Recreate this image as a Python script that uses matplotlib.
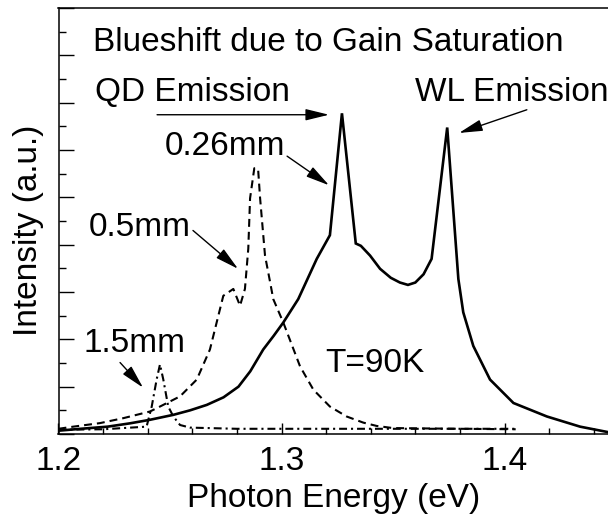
import matplotlib
matplotlib.use("Agg")
import matplotlib.pyplot as plt
from matplotlib.ticker import MultipleLocator

plt.rcParams['font.family'] = ['Liberation Sans', 'DejaVu Sans']

# ---- data ----
x_026 = [1.200, 1.210, 1.222, 1.232, 1.241, 1.2515, 1.259, 1.2665, 1.274, 1.2807,
         1.286, 1.2918, 1.2965, 1.3008, 1.3075, 1.3158, 1.3217, 1.3271, 1.3333, 1.3356,
         1.3397, 1.3442, 1.3490, 1.3531, 1.3567, 1.3600, 1.3637, 1.3673, 1.3743, 1.3793,
         1.3815, 1.3860, 1.3935, 1.4040, 1.4190, 1.4339, 1.4464]
y_026 = [0.14, 0.22, 0.31, 0.45, 0.60, 0.81, 1.00, 1.23, 1.55, 2.00,
         2.65, 3.57, 4.15, 4.71, 5.70, 7.40, 8.40, 13.55, 8.05, 7.95,
         7.54, 6.98, 6.60, 6.40, 6.30, 6.40, 6.75, 7.40, 12.95, 6.55,
         5.14, 3.72, 2.30, 1.31, 0.74, 0.31, 0.08]

x_05 = [1.200, 1.2066, 1.2186, 1.2291, 1.241, 1.2455, 1.2545, 1.262, 1.2679, 1.2739,
        1.2784, 1.2814, 1.2836, 1.2851, 1.2859, 1.2878, 1.2895, 1.2904, 1.2926, 1.2949,
        1.2963, 1.3008, 1.3083, 1.3143, 1.3217, 1.3292, 1.3367, 1.3427, 1.3500, 1.3800,
        1.4050]
y_05 = [0.22, 0.31, 0.46, 0.67, 0.95, 1.16, 1.59, 2.30, 3.57, 5.84,
        6.13, 5.42, 6.13, 7.83, 9.96, 11.23, 11.20, 9.96, 7.54, 6.41,
        5.70, 4.71, 2.86, 1.87, 1.16, 0.74, 0.48, 0.34, 0.25, 0.22,
        0.20]

x_15 = [1.200, 1.220, 1.2395, 1.2418, 1.2440, 1.2455, 1.2470, 1.2492, 1.2515, 1.2545,
        1.2590, 1.280, 1.320, 1.360, 1.405]
y_15 = [0.18, 0.20, 0.31, 1.16, 2.30, 2.94, 2.30, 1.16, 0.74, 0.38,
        0.27, 0.22, 0.22, 0.22, 0.22]

x_major = [1.2, 1.3, 1.4]
x_labels = ["1.2", "1.3", "1.4"]

# ---- figure ----
fig = plt.figure(figsize=(6.08, 5.18), dpi=100)
ax = fig.add_axes([58.5 / 608, 84 / 518, 549.5 / 608, 426 / 518])

ax.plot(x_026, y_026, color='black', lw=1.9, solid_joinstyle='miter')
ax.plot(x_05, y_05, color='black', lw=1.5, linestyle=(0, (3.8, 2.4)))
ax.plot(x_15, y_15, color='black', lw=1.5, linestyle=(0, (3.8, 1.9, 1.0, 1.9)))

ax.set_xlim(1.2, 1.4464)
ax.set_ylim(0, 18)

ax.set_xticks(x_major)
ax.set_xticklabels(x_labels)
ax.xaxis.set_minor_locator(MultipleLocator(0.02))
ax.yaxis.set_major_locator(MultipleLocator(2))
ax.yaxis.set_minor_locator(MultipleLocator(1))
ax.tick_params(axis='x', which='major', direction='in', length=8, width=1.0,
               labelsize=24, pad=9)
ax.tick_params(axis='x', which='minor', direction='in', length=4.5, width=1.0)
ax.tick_params(axis='y', which='major', direction='in', length=11, width=1.0,
               labelleft=False)
ax.tick_params(axis='y', which='minor', direction='in', length=5, width=1.0)

for s in ['left', 'bottom', 'top']:
    ax.spines[s].set_linewidth(1.1)
ax.spines['right'].set_visible(False)

ax.set_xlabel("Photon Energy (eV)", fontsize=24, labelpad=4)
ax.set_ylabel("Intensity (a.u.)", fontsize=24)
ax.yaxis.set_label_coords(-0.026, 0.479)

fs = 24
ax.text(1.2155, 16.2, "Blueshift due to Gain Saturation", fontsize=fs, va='baseline')
ax.text(1.2164, 14.09, "QD Emission", fontsize=fs, va='baseline')
ax.text(1.3599, 14.09, "WL Emission", fontsize=fs, va='baseline')
ax.text(1.2478, 11.79, "0.26mm", fontsize=fs, va='baseline')
ax.text(1.2137, 8.38, "0.5mm", fontsize=fs, va='baseline')
ax.text(1.2110, 3.45, "1.5mm", fontsize=fs, va='baseline')
ax.text(1.3195, 2.64, "T=90K", fontsize=fs, va='baseline')

ap = dict(arrowstyle='-|>,head_length=0.9,head_width=0.22', lw=1.0, color='black',
          shrinkA=0, shrinkB=0, mutation_scale=16)
ax.annotate('', xy=(1.3213, 13.49), xytext=(1.2442, 13.49), arrowprops=ap)
ax.annotate('', xy=(1.3796, 12.72), xytext=(1.4100, 13.70), arrowprops=ap)
ax.annotate('', xy=(1.3213, 10.51), xytext=(1.3025, 11.74), arrowprops=ap)
ax.annotate('', xy=(1.2805, 6.98), xytext=(1.2603, 8.60), arrowprops=ap)
ax.annotate('', xy=(1.2379, 1.96), xytext=(1.2276, 3.02), arrowprops=ap)

fig.savefig("out.png", dpi=100)
